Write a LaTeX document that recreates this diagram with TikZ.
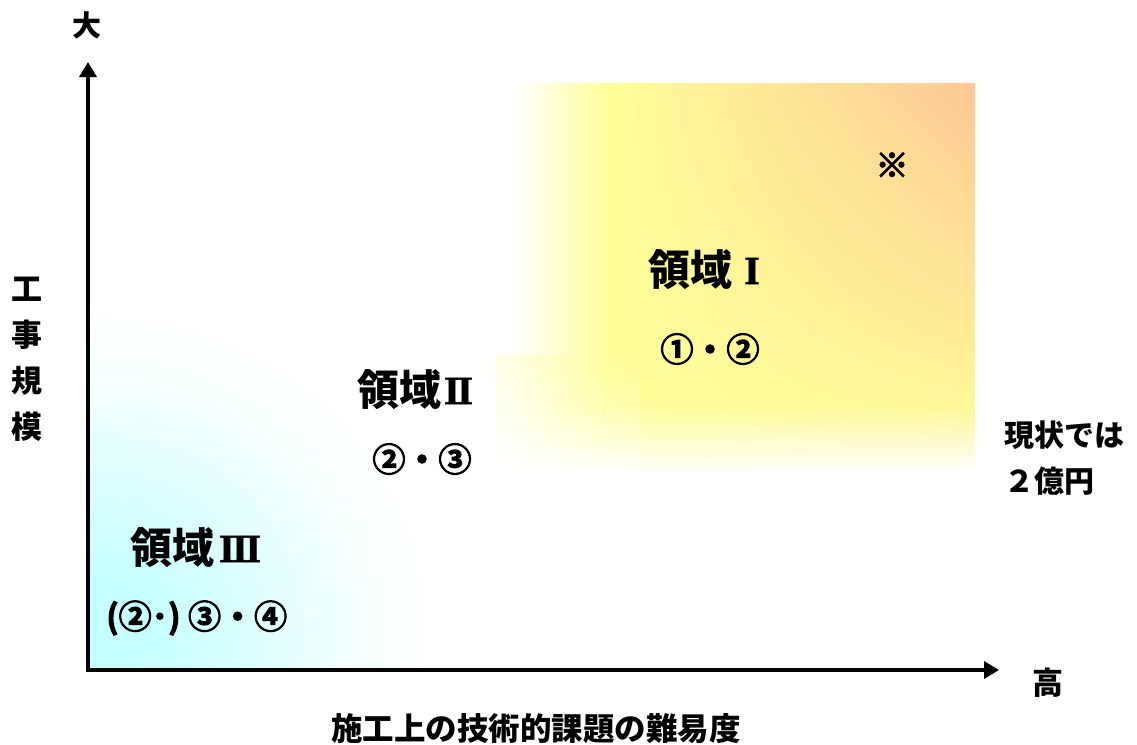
\documentclass[tikz,border=0pt]{standalone}
\usepackage{fontspec}
\setmainfont{Noto Sans CJK JP}
\newfontfamily\heavyfont{Noto Sans CJK JP}[UprightFont=* Bold, UprightFeatures={FakeBold=3}]
\newfontfamily\markfont{Noto Sans CJK JP}[UprightFont=* Bold, UprightFeatures={FakeBold=4}]
\newfontfamily\romanfont{Liberation Serif}[UprightFont=* Bold, UprightFeatures={FakeBold=1.5}]
\usetikzlibrary{arrows.meta,shadings}
\definecolor{yel}{RGB}{255,255,153}
\definecolor{ora}{RGB}{253,200,150}
\definecolor{yelB}{RGB}{255,246,153}
\definecolor{cyn}{RGB}{198,255,255}
\pgfdeclareradialshading{blueglow}{\pgfpoint{0bp}{0bp}}{color(0bp)=(cyn); color(4bp)=(cyn); color(12bp)=(cyn!55!white); color(19bp)=(cyn!15!white); color(25bp)=(white); color(50bp)=(white)}
\newcommand{\rn}[1]{{\romanfont\fontsize{40}{40}\selectfont\raisebox{1pt}{#1}}}
\tikzset{
  axisline/.style={line width=3.5pt, {Triangle[length=15pt,width=17pt]}-{Triangle[length=15pt,width=17pt]}},
  lbl/.style={inner sep=0pt, font=\bfseries\fontsize{#1}{#1}\selectfont},
  region/.style={inner sep=0pt, anchor=base west, font=\bfseries\fontsize{42}{42}\selectfont},
  nums/.style={inner sep=0pt, font=\heavyfont\fontsize{33}{33}\selectfont},
}
\begin{document}
\begin{tikzpicture}[x=1pt,y=-1pt]
\useasboundingbox (0,0) rectangle (1137,744);
% blue glow (region III)
\begin{scope}
  \clip (88,83) rectangle (975,670);
  \shade[shading=blueglow] (100,630) ellipse (340 and 330);
\end{scope}
% yellow/orange (region I)
\shade[upper left=yel, upper right=ora, lower left=yel, lower right=yelB] (609.5,83) rectangle (975,405.5);
\shade[upper left=white, lower left=white, upper right=yel, lower right=yel] (513,83) rectangle (610,405.5);
\shade[upper left=yel, upper right=yelB, lower left=white, lower right=white] (609.5,405) rectangle (975,475);
\shade[upper left=white, lower left=white, upper right=yel, lower right=white] (513,405) rectangle (610,475);
\shade[fill opacity=0.45, upper left=yel!60!white, upper right=yel, lower left=white, lower right=white] (495,355) rectangle (640,475);
% axes
\coordinate (O) at (88,670);
\coordinate (ytip) at (88,62);
\coordinate (xtip) at (999,670);
\draw[axisline] (ytip) -- (O) -- (xtip);
% axis labels
\node[lbl=29] (big) at (87,25) {大};
\node[lbl=31] (high) at (1048,683) {高};
\node[lbl=31, align=center, font=\bfseries\fontsize{31}{46}\selectfont] (yl) at (27,359) {工\\事\\規\\模};
\node[lbl=31.5] (xl) at (536,729) {施工上の技術的課題の難易度};
% regions
\node[region] (r1) at (648,285) {領域\hspace{12pt}\rn{I}};
\node[nums] (n1) at (710,349) {①・②};
\node[inner sep=0pt, font=\markfont\fontsize{33}{33}\selectfont] (mark) at (892,165) {※};
\node[region] (r2) at (357,405) {領域\hspace{3pt}\rn{I\kern-2.5pt I}};
\node[nums] (n2) at (422,459) {②・③};
\node[region] (r3) at (130,563) {領域\hspace{5pt}\rn{I\kern-2.5pt I\kern-2.5pt I}};
\node[nums, anchor=west] (n3) at (106,618) {(②･) ③・④};
\node[lbl=30, anchor=west, align=left, font=\bfseries\fontsize{30}{46}\selectfont] (note) at (1004,458) {現状では\\２億円};
\end{tikzpicture}
\end{document}
